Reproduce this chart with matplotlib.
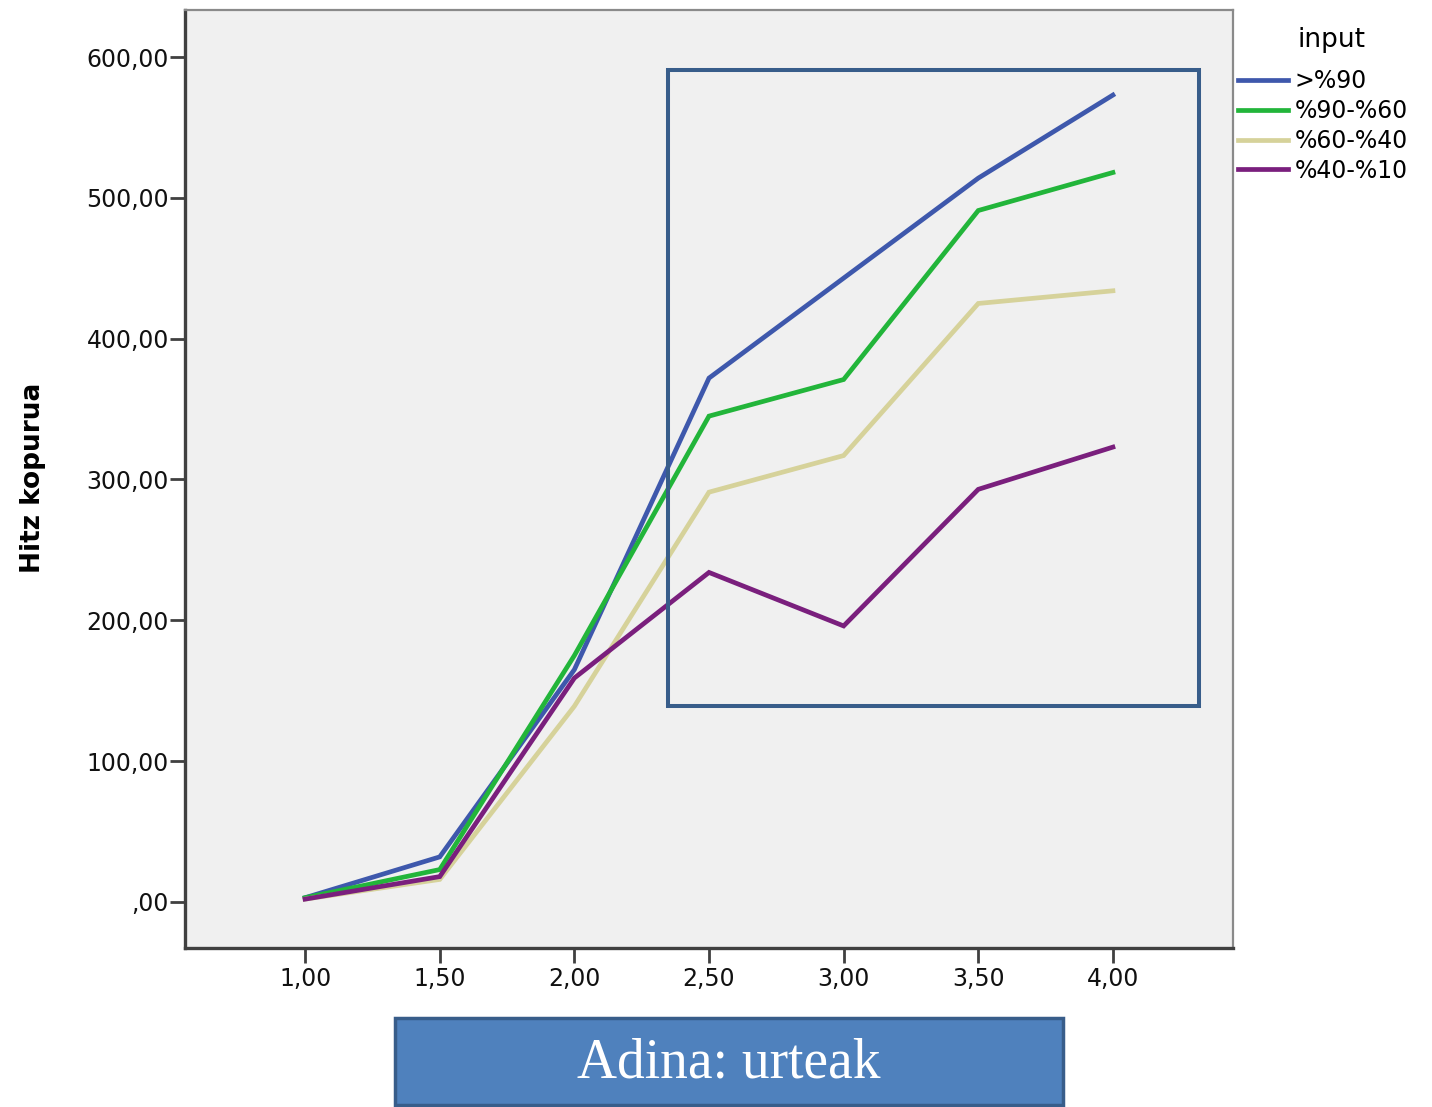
import matplotlib
matplotlib.use("Agg")
import matplotlib.pyplot as plt
from matplotlib.patches import Rectangle

ages = [1.0, 1.5, 2.0, 2.5, 3.0, 3.5, 4.0]
series_names = [">%90", "%90-%60", "%60-%40", "%40-%10"]
s_gt90 = [3, 32, 165, 372, 443, 514, 573]
s_90_60 = [3, 23, 175, 345, 371, 491, 518]
s_60_40 = [2, 16, 139, 291, 317, 425, 434]
s_40_10 = [2, 18, 159, 234, 196, 293, 323]
colors = ["#3E58AC", "#22B53A", "#D6D29A", "#7A1F7D"]
yticks = [0, 100, 200, 300, 400, 500, 600]
ytick_labels = [",00", "100,00", "200,00", "300,00", "400,00", "500,00", "600,00"]
xtick_labels = ["1,00", "1,50", "2,00", "2,50", "3,00", "3,50", "4,00"]

W, H = 1432, 1107
fig = plt.figure(figsize=(W / 100, H / 100), dpi=100)
ax = fig.add_axes([185 / W, 1 - 948 / H, (1233 - 185) / W, (948 - 10) / H])
ax.set_facecolor("#F0F0F0")

for name, vals, c in zip(series_names, [s_gt90, s_90_60, s_60_40, s_40_10], colors):
    ax.plot(ages, vals, color=c, lw=3.4, label=name, solid_joinstyle="miter")

ax.set_xlim(0.554, 4.446)
ax.set_ylim(-32.7, 633.4)
ax.set_xticks(ages)
ax.set_xticklabels(xtick_labels)
ax.set_yticks(yticks)
ax.set_yticklabels(ytick_labels)
ax.tick_params(axis="both", direction="out", length=10.5, width=2.0, color="#404040",
               labelsize=17, labelcolor="#111111")
ax.tick_params(axis="x", pad=3)
ax.tick_params(axis="y", pad=1)
for s in ["left", "bottom"]:
    ax.spines[s].set_color("#404040")
    ax.spines[s].set_linewidth(2.4)
for s in ["top", "right"]:
    ax.spines[s].set_color("#8A8A8A")
    ax.spines[s].set_linewidth(1.6)

fig.text(33 / W, 1 - 478 / H, "Hitz kopurua", rotation=90, ha="center", va="center",
         fontsize=19, fontweight="bold")

# highlight rectangle
ax.add_patch(Rectangle((2.348, 139.2), 4.319 - 2.348, 590.9 - 139.2, fill=False,
                       edgecolor="#385D8A", lw=2.9, zorder=5))

leg = fig.legend(loc="upper left", bbox_to_anchor=(1238 / W, 1 - 69 / H),
                 bbox_transform=fig.transFigure, frameon=False,
                 fontsize=17, handlelength=2.1, handletextpad=0.3,
                 labelspacing=0.25, borderaxespad=0, borderpad=0)
for ln in leg.get_lines():
    ln.set_linewidth(3.4)
fig.text(1297 / W, 1 - 40 / H, "input", ha="left", va="center", fontsize=19)

# x axis label box
fig.patches.append(Rectangle((395 / W, 1 - 1105 / H), (1063 - 395) / W, (1105 - 1018) / H,
                             transform=fig.transFigure, facecolor="#4F81BD",
                             edgecolor="#385D8A", lw=2.5))
fig.text(729 / W, 1 - 1064 / H, "Adina: urteak", ha="center", va="center",
         fontsize=40, color="white", family="Liberation Serif")

fig.savefig("out.png", dpi=100, facecolor="white")
